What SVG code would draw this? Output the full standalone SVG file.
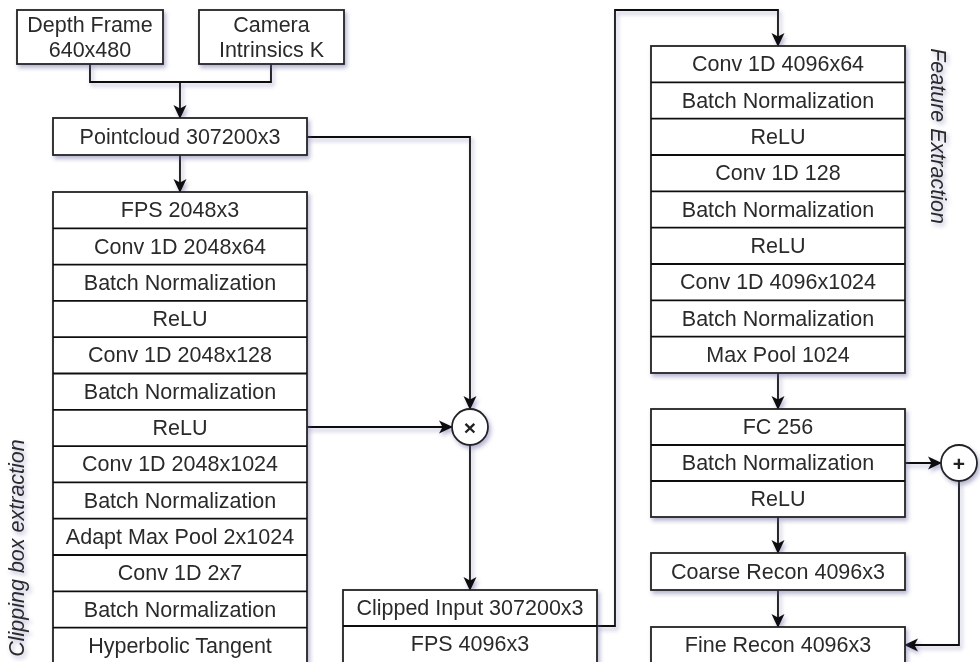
<svg xmlns="http://www.w3.org/2000/svg" width="980" height="662" viewBox="0 0 980 662">
<defs>
<filter id="sh" x="-20%" y="-20%" width="140%" height="140%">
<feDropShadow dx="2" dy="3" stdDeviation="2.2" flood-color="#5a5a9a" flood-opacity="0.45"/>
</filter>
<marker id="arr" viewBox="0 0 14 14" refX="13" refY="7" markerWidth="14" markerHeight="14" markerUnits="userSpaceOnUse" orient="auto">
<path d="M0,0.5 L14,7 L0,13.5 L3.5,7 z" fill="#111"/>
</marker>
</defs>
<style>
.b{fill:#fff;stroke:#222;stroke-width:1.8}
.t{font-family:"Liberation Sans",Arial,sans-serif;font-size:21.5px;fill:#2a2a2a;text-anchor:middle;dominant-baseline:central}
.c{fill:none;stroke:#111;stroke-width:1.8}
.l{font-family:"Liberation Sans",Arial,sans-serif;font-size:21.5px;font-style:italic;fill:#2a2a2a;text-anchor:middle}
.o{font-family:"Liberation Sans",Arial,sans-serif;font-size:21px;font-weight:bold;fill:#222;text-anchor:middle;dominant-baseline:central}
</style>
<rect width="980" height="662" fill="#fff"/>
<g id="connectors" filter="url(#sh)">
<path class="c" d="M90,64 V82 H271 V64"/>
<path class="c" d="M180,82 V118" marker-end="url(#arr)"/>
<path class="c" d="M180,155 V192" marker-end="url(#arr)"/>
<path class="c" d="M307,137 H470 V409" marker-end="url(#arr)"/>
<path class="c" d="M307,427 H452" marker-end="url(#arr)"/>
<path class="c" d="M470,445 V590" marker-end="url(#arr)"/>
<path class="c" d="M597,626 H615 V10 H778 V46" marker-end="url(#arr)"/>
<path class="c" d="M778,373 V409" marker-end="url(#arr)"/>
<path class="c" d="M905,463 H941" marker-end="url(#arr)"/>
<path class="c" d="M778,517 V553" marker-end="url(#arr)"/>
<path class="c" d="M778,590 V627" marker-end="url(#arr)"/>
<path class="c" d="M959,481 V645 H905" marker-end="url(#arr)"/>
</g>
<g id="depth" filter="url(#sh)">
<rect class="b" x="17" y="10" width="146" height="54"/>
<text class="t" x="90" y="25">Depth Frame</text>
<text class="t" x="90" y="50">640x480</text>
</g>
<g id="camera" filter="url(#sh)">
<rect class="b" x="199" y="10" width="145" height="54"/>
<text class="t" x="271.5" y="25">Camera</text>
<text class="t" x="271.5" y="50">Intrinsics K</text>
</g>
<g id="pointcloud" filter="url(#sh)">
<rect class="b" x="53" y="118" width="254" height="37"/>
<text class="t" x="180" y="137">Pointcloud 307200x3</text>
</g>
<g id="clipping-stack" filter="url(#sh)">
<rect class="b" x="53" y="192" width="254" height="472"/>
<path class="c" d="M53,228.3H307M53,264.6H307M53,300.9H307M53,337.2H307M53,373.5H307M53,409.8H307M53,446.1H307M53,482.4H307M53,518.7H307M53,555H307M53,591.3H307M53,627.6H307"/>
<text class="t" x="180" y="210.2">FPS 2048x3</text>
<text class="t" x="180" y="246.5">Conv 1D 2048x64</text>
<text class="t" x="180" y="282.8">Batch Normalization</text>
<text class="t" x="180" y="319.1">ReLU</text>
<text class="t" x="180" y="355.4">Conv 1D 2048x128</text>
<text class="t" x="180" y="391.7">Batch Normalization</text>
<text class="t" x="180" y="428">ReLU</text>
<text class="t" x="180" y="464.3">Conv 1D 2048x1024</text>
<text class="t" x="180" y="500.6">Batch Normalization</text>
<text class="t" x="180" y="536.9">Adapt Max Pool 2x1024</text>
<text class="t" x="180" y="573.2">Conv 1D 2x7</text>
<text class="t" x="180" y="609.5">Batch Normalization</text>
<text class="t" x="180" y="645.5">Hyperbolic Tangent</text>
</g>
<g id="multiply" filter="url(#sh)">
<circle class="b" cx="470" cy="427" r="18"/>
<text class="o" x="470" y="427">×</text>
</g>
<g id="clipped" filter="url(#sh)">
<rect class="b" x="343" y="590" width="254" height="74"/>
<path class="c" d="M343,626H597"/>
<text class="t" x="470" y="608">Clipped Input 307200x3</text>
<text class="t" x="470" y="644">FPS 4096x3</text>
</g>
<g id="feature-stack" filter="url(#sh)">
<rect class="b" x="651" y="46" width="254" height="327"/>
<path class="c" d="M651,82.3H905M651,118.7H905M651,155H905M651,191.3H905M651,227.7H905M651,264H905M651,300.3H905M651,336.7H905"/>
<text class="t" x="778" y="64.2">Conv 1D 4096x64</text>
<text class="t" x="778" y="100.5">Batch Normalization</text>
<text class="t" x="778" y="136.8">ReLU</text>
<text class="t" x="778" y="173.2">Conv 1D 128</text>
<text class="t" x="778" y="209.5">Batch Normalization</text>
<text class="t" x="778" y="245.8">ReLU</text>
<text class="t" x="778" y="282.2">Conv 1D 4096x1024</text>
<text class="t" x="778" y="318.5">Batch Normalization</text>
<text class="t" x="778" y="354.8">Max Pool 1024</text>
</g>
<g id="fc-stack" filter="url(#sh)">
<rect class="b" x="651" y="409" width="254" height="108"/>
<path class="c" d="M651,445H905M651,481H905"/>
<text class="t" x="778" y="427">FC 256</text>
<text class="t" x="778" y="463">Batch Normalization</text>
<text class="t" x="778" y="499">ReLU</text>
</g>
<g id="plus" filter="url(#sh)">
<circle class="b" cx="959" cy="463" r="18"/>
<text class="o" x="959" y="463">+</text>
</g>
<g id="coarse" filter="url(#sh)">
<rect class="b" x="651" y="553" width="254" height="37"/>
<text class="t" x="778" y="571.5">Coarse Recon 4096x3</text>
</g>
<g id="fine" filter="url(#sh)">
<rect class="b" x="651" y="627" width="254" height="37"/>
<text class="t" x="778" y="645">Fine Recon 4096x3</text>
</g>
<g id="labels" filter="url(#sh)">
<text class="l" transform="translate(24,548) rotate(-90)">Clipping box extraction</text>
<text class="l" transform="translate(931,136) rotate(90)">Feature Extraction</text>
</g>
</svg>
